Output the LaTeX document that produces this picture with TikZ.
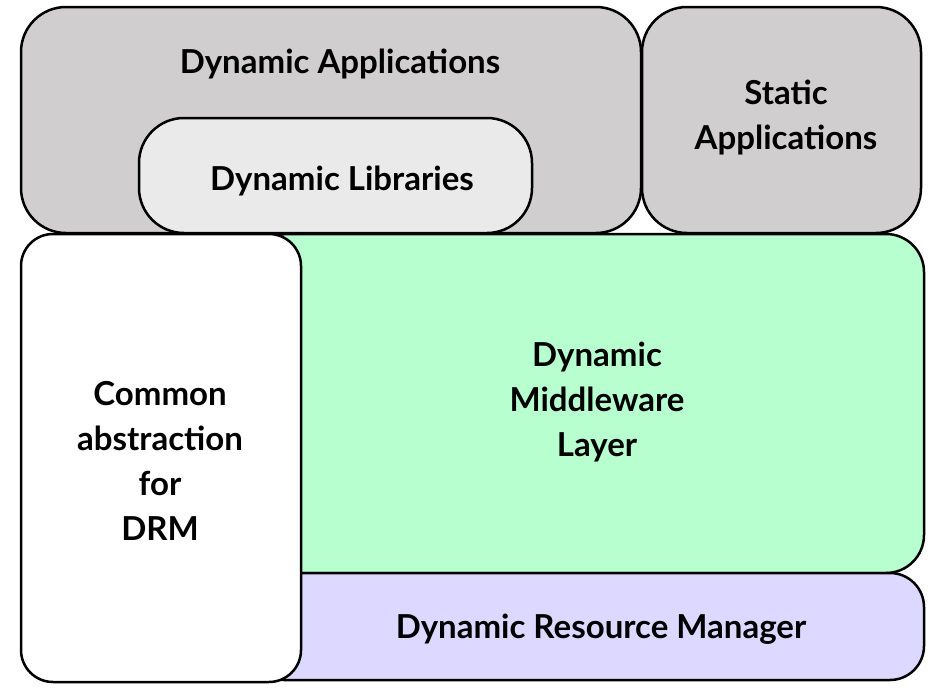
\documentclass[tikz,border=0pt]{standalone}
\usepackage{fontspec}
\setmainfont{Lato}
\definecolor{appgray}{HTML}{D0CECE}
\definecolor{libgray}{HTML}{EAEAEA}
\definecolor{mwgreen}{HTML}{B8FFD0}
\definecolor{drmpurple}{HTML}{DDD8FF}
\tikzset{
  blk/.style={draw=black, line width=2.5pt},
  lbl/.style={font=\fontsize{33}{45}\selectfont\bfseries, align=center, text=black}
}
\begin{document}
\begin{tikzpicture}[x=1pt,y=-1pt]
\useasboundingbox (0,0) rectangle (937,699);
% middleware and resource manager (behind)
\draw[blk, fill=mwgreen, rounded corners=38pt] (250,234) rectangle (924,573);
\draw[blk, fill=drmpurple, rounded corners=34pt] (250,573) rectangle (924,680);
% common abstraction
\draw[blk, fill=white, rounded corners=32pt] (21,234) rectangle (301,682);
% top boxes
\draw[blk, fill=appgray, rounded corners=45pt] (21,7) rectangle (641,233);
\draw[blk, fill=appgray, rounded corners=45pt] (642,7) rectangle (921,233);
\draw[blk, fill=libgray, rounded corners=45pt] (139,118) rectangle (532,233);
% labels
\node[lbl] (da) at (340,64) {Dynamic Applications};
\node[lbl] (dl) at (342,181) {Dynamic Libraries};
\node[lbl] (sa) at (786,117) {Static\\Applications};
\node[lbl] (ca) at (160,461) {Common\\abstraction\\for\\DRM};
\node[lbl] (mw) at (597,402) {Dynamic\\Middleware\\Layer};
\node[lbl] (rm) at (601,629) {Dynamic Resource Manager};
\end{tikzpicture}
\end{document}
